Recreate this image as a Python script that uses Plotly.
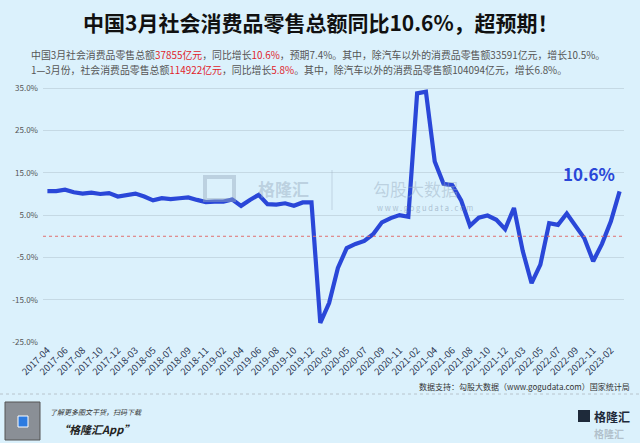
import plotly.graph_objects as go

categories = [
    "2017-04", "2017-05", "2017-06", "2017-07", "2017-08", "2017-09", "2017-10", "2017-11", "2017-12",
    "2018-02", "2018-03", "2018-04", "2018-05", "2018-06", "2018-07", "2018-08", "2018-09", "2018-10", "2018-11", "2018-12",
    "2019-02", "2019-03", "2019-04", "2019-05", "2019-06", "2019-07", "2019-08", "2019-09", "2019-10", "2019-11", "2019-12",
    "2020-02", "2020-03", "2020-04", "2020-05", "2020-06", "2020-07", "2020-08", "2020-09", "2020-10", "2020-11", "2020-12",
    "2021-02", "2021-03", "2021-04", "2021-05", "2021-06", "2021-07", "2021-08", "2021-09", "2021-10", "2021-11", "2021-12",
    "2022-02", "2022-03", "2022-04", "2022-05", "2022-06", "2022-07", "2022-08", "2022-09", "2022-10", "2022-11", "2022-12",
    "2023-02", "2023-03",
]
yoy = [
    10.7, 10.7, 11.0, 10.4, 10.1, 10.3, 10.0, 10.2, 9.4,
    9.7, 10.1, 9.4, 8.5, 9.0, 8.8, 9.0, 9.2, 8.6, 8.1, 8.2,
    8.2, 8.7, 7.2, 8.6, 9.8, 7.6, 7.5, 7.8, 7.2, 8.0, 8.0,
    -20.5, -15.8, -7.5, -2.8, -1.8, -1.1, 0.5, 3.3, 4.3, 5.0, 4.6,
    33.8, 34.2, 17.7, 12.4, 12.1, 8.5, 2.5, 4.4, 4.9, 3.9, 1.7,
    6.7, -3.5, -11.1, -6.7, 3.1, 2.7, 5.4, 2.5, -0.5, -5.9, -1.8,
    3.5, 10.6,
]
y_ticks = [-25, -15, -5, 5, 15, 25, 35]
y_tick_labels = [f"{v:.1f}%" for v in y_ticks]
x_tick_labels = categories[::2]

title = "中国3月社会消费品零售总额同比10.6%，超预期！"
sub1 = ("中国3月社会消费品零售总额<span style='color:#e0242b'>37855亿元</span>，同比增长"
        "<span style='color:#e0242b'>10.6%</span>，预期7.4%。其中，除汽车以外的消费品零售额33591亿元，增长10.5%。")
sub2 = ("1—3月份，社会消费品零售总额<span style='color:#e0242b'>114922亿元</span>，同比增长"
        "<span style='color:#e0242b'>5.8%</span>。其中，除汽车以外的消费品零售额104094亿元，增长6.8%。")
source = "数据支持：勾股大数据（www.gogudata.com）国家统计局"

BG = "#dbf1fc"
LINE = "#2a47d8"
FONT = "Noto Sans CJK SC"

fig = go.Figure()
fig.add_trace(go.Scatter(
    x=categories, y=yoy, mode="lines",
    line=dict(color=LINE, width=4.2), hoverinfo="skip", showlegend=False,
))

fig.update_layout(
    width=640, height=443,
    paper_bgcolor=BG, plot_bgcolor=BG,
    margin=dict(l=43, r=16, t=87, b=101),
    font=dict(family=FONT, color="#444"),
    xaxis=dict(
        type="category", range=[-0.5, len(categories) - 0.5],
        tickmode="array", tickvals=x_tick_labels, ticktext=x_tick_labels,
        tickangle=-45, tickfont=dict(size=9.5, color="#2a3450", family=FONT),
        showgrid=False, zeroline=False, showline=False, ticks="",
    ),
    yaxis=dict(
        range=[-25, 35.3], tickmode="array", tickvals=y_ticks, ticktext=y_tick_labels,
        tickfont=dict(size=8, color="#555", family=FONT),
        showgrid=True, gridcolor="#c5d9e4", gridwidth=1,
        zeroline=False, showline=False, ticks="", ticklabelstandoff=4,
    ),
)

# red dotted zero line
fig.add_shape(type="line", xref="paper", yref="y", x0=0, x1=1, y0=0, y1=0,
              line=dict(color="#e07070", width=1, dash="dot"))

# last value label
fig.add_annotation(x=categories[-1], y=yoy[-1], text="<b>10.6%</b>", showarrow=False,
                   xanchor="center", yanchor="bottom", yshift=3, xshift=-31,
                   font=dict(size=17, color=LINE, family=FONT))


def paper_text(px, py, text, size, color, xanchor="left", bold=False, italic=False):
    t = text
    if bold:
        t = f"<b>{t}</b>"
    if italic:
        t = f"<i>{t}</i>"
    fig.add_annotation(
        xref="paper", yref="paper",
        x=(px - 43) / (640 - 43 - 16), y=(443 - 101 - py) / (443 - 87 - 101),
        text=t, showarrow=False, xanchor=xanchor, yanchor="middle",
        font=dict(size=size, color=color, family=FONT),
    )


paper_text(321, 22, title, 21, "#111", xanchor="center", bold=True)
paper_text(29, 55, sub1, 9.9, "#555")
paper_text(29, 70, sub2, 9.9, "#555")
paper_text(632, 386, source, 8, "#333", xanchor="right")

# watermark
paper_text(283, 188, "格隆汇", 17, "rgba(150,170,190,0.45)", xanchor="center", bold=True)
paper_text(415, 188, "勾股大数据", 17, "rgba(150,170,190,0.45)", xanchor="center")
paper_text(425, 207, "w w w . g o g u d a t a . c o m", 7.5, "rgba(120,140,165,0.5)", xanchor="center")
fig.add_shape(type="rect", xref="paper", yref="paper",
              x0=(205 - 43) / 581, x1=(234 - 43) / 581,
              y0=(342 - 200) / 255, y1=(342 - 177) / 255,
              line=dict(color="rgba(150,170,190,0.45)", width=4), fillcolor="rgba(0,0,0,0)")
fig.add_shape(type="line", xref="paper", yref="paper",
              x0=(332 - 43) / 581, x1=(332 - 43) / 581,
              y0=(342 - 210) / 255, y1=(342 - 170) / 255,
              line=dict(color="rgba(150,170,190,0.4)", width=1))

# footer
fig.add_shape(type="line", xref="paper", yref="paper",
              x0=-43 / 581, x1=(640 - 43) / 581, y0=(342 - 394) / 255, y1=(342 - 394) / 255,
              line=dict(color="#b8c4cc", width=1, dash="dot"))
fig.add_shape(type="rect", xref="paper", yref="paper",
              x0=(5 - 43) / 581, x1=(40 - 43) / 581, y0=(342 - 440) / 255, y1=(342 - 402) / 255,
              line=dict(color="#555", width=1), fillcolor="#8a8f96")
fig.add_shape(type="rect", xref="paper", yref="paper",
              x0=(18 - 43) / 581, x1=(28 - 43) / 581, y0=(342 - 427) / 255, y1=(342 - 416) / 255,
              line=dict(color="#fff", width=1), fillcolor="#2d7be0")
paper_text(48, 412, "了解更多图文干货，扫码下载", 7, "#333", italic=True)
paper_text(56, 429, "“格隆汇App”", 11, "#222", bold=True, italic=True)

fig.add_shape(type="rect", xref="paper", yref="paper",
              x0=(578 - 43) / 581, x1=(590 - 43) / 581, y0=(342 - 422) / 255, y1=(342 - 410) / 255,
              line=dict(color="#1e2a3a", width=0), fillcolor="#1e2a3a")
paper_text(592, 416, "格隆汇", 12, "#1e2a3a", bold=True)
paper_text(592, 433, "格隆汇", 10, "rgba(150,160,170,0.6)", bold=True)

fig.write_html("out.html")
